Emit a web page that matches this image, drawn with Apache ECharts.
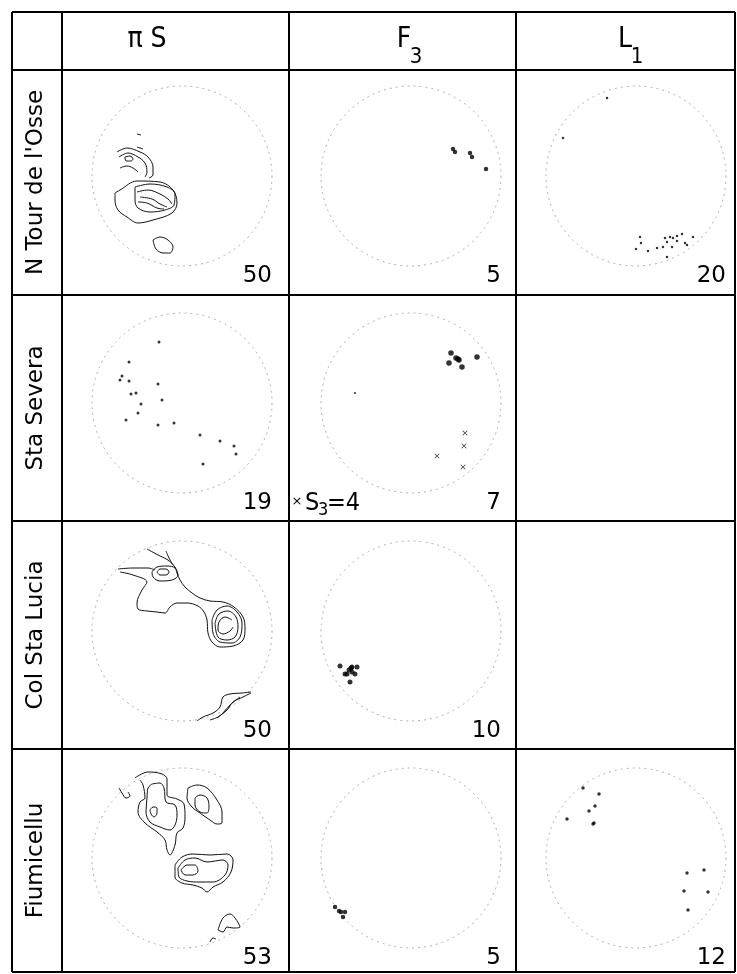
<!DOCTYPE html>
<html><head><meta charset="utf-8">
<script src="https://cdn.jsdelivr.net/npm/echarts@6/dist/echarts.min.js"></script>
<style>html,body{margin:0;padding:0;background:#fff}#c{width:737px;height:974px}</style>
</head><body><div id="c"></div>
<script>
// ---------- labels ----------
const columnHeads = ["π S", "F", "L"];
const columnSubs = ["", "3", "1"];
const rowLabels = ["N Tour de l'Osse", "Sta Severa", "Col Sta Lucia", "Fiumicellu"];
const counts = [["50","5","20"],["19","7",""],["50","10",""],["53","5","12"]];
const s3Label = "S";
const s3Sub = "3";
const s3Value = "=4";

// ---------- data (net units, primitive circle radius = 90) ----------
const tourF3 = [[42,27],[44,24],[59,23],[61,19],[75,7]];
const tourL1 = [[-29,78],[-73,38],[4,-61],[5,-67],[0,-73],[12,-75],[21,-72],[27,-71],[31,-66],[34,-61],[37,-62],[41,-60],[46,-58],[41,-65],[36,-71],[49,-67],[51,-69],[57,-61],[31,-81],[29,-62]];
const severaPiS = [[-23,61],[-53,41],[-60,27],[-62,23],[-53,22],[-24,19],[-51,9],[-46,10],[-20,3],[-41,-1],[-44,-10],[-56,-17],[-24,-22],[-8,-20],[18,-32],[38,-38],[52,-43],[54,-51],[21,-61]];
const severaF3 = [[40,50],[38,40],[45,45],[47,44],[48,43],[51,36],[66,46]];
const severaF3minor = [[-56,10]];
const severaS3 = [[54,-30],[53,-43],[26,-53],[52,-64]];
const luciaF3 = [[-71,-35],[-54,-36],[-66,-43],[-62,-39],[-60,-37],[-59,-41],[-56,-43],[-64,-43],[-61,-51],[-59,-36]];
const fiumF3 = [[-76,-49],[-72,-53],[-68,-59],[-66,-54],[-70,-54]];
const fiumL1 = [[-53,70],[-37,64],[-41,52],[-47,47],[-69,39],[-42,35],[-43,34],[51,-15],[68,-12],[48,-33],[72,-34],[52,-52]];

const tourPiS = [
 [[-67,-17],[-62,-14],[-45,-5],[-22,-6],[-9,-14],[-5,-27],[-10,-37],[-29,-44],[-44,-47],[-55,-41],[-64,-34],[-67,-24],[-67,-17]],
 [[-47,-11],[-32,-8],[-15,-11],[-7,-18],[-8,-29],[-17,-34],[-32,-36],[-44,-32],[-47,-24],[-47,-11]],
 [[-45,-16],[-34,-14],[-22,-18],[-14,-23],[-10,-28]],
 [[-42,-21],[-30,-23],[-22,-28],[-15,-31]],
 [[-44,-26],[-35,-27],[-25,-32],[-18,-33]],
 [[-65,24],[-55,28],[-42,24],[-34,19],[-29,9],[-29,1],[-33,-2]],
 [[-63,19],[-54,23],[-44,19],[-37,13],[-35,4],[-37,-1]],
 [[-62,8],[-55,10],[-49,8],[-44,4]],
 [[-57,19],[-52,20],[-49,17],[-51,15],[-56,15],[-57,19]],
 [[-45,42],[-41,41]],
 [[-45,29],[-39,27]],
 [[-29,-64],[-22,-61],[-14,-64],[-9,-71],[-12,-77],[-19,-77],[-26,-73],[-29,-64]]
];
const luciaPiS = [
 [[-64,62],[-49,63],[-34,63],[-27,61]],
 [[-30,59],[-25,64],[-15,65],[-7,63],[-4,56],[-10,51],[-22,50],[-29,54],[-30,59]],
 [[-25,59],[-22,62],[-16,62],[-13,59],[-16,56],[-22,56],[-25,59]],
 [[-62,59],[-49,56],[-35,49],[-40,41],[-45,28],[-44,22],[-35,20],[-25,19],[-17,18],[-12,24],[-5,28],[5,28],[16,25],[22,19],[25,11],[26,-2],[30,-11],[38,-16],[51,-15],[61,-9],[63,3],[61,14],[52,24],[41,29],[28,30],[18,33],[10,38],[3,44],[-2,51],[-5,58],[-7,64],[-14,71],[-22,75],[-35,82]],
 [[-16,80],[-13,73],[-9,66]],
 [[30,11],[35,21],[45,25],[55,19],[60,8],[58,-6],[50,-12],[38,-11],[31,-2],[30,11]],
 [[33,8],[37,17],[46,20],[54,14],[56,4],[53,-6],[45,-9],[36,-6],[33,8]],
 [[50,11],[43,14],[37,9],[36,1],[41,-3],[48,0],[51,4]],
 [[15,-90],[21,-86],[31,-82],[38,-76],[41,-66],[48,-63],[60,-62],[69,-61]],
 [[69,-62],[61,-66],[51,-71],[45,-79],[36,-86],[28,-89]],
 [[58,-66],[48,-74],[41,-82],[35,-87]]
];
const fiumPiS = [
 [[-63,70],[-60,65],[-56,60],[-52,62],[-54,66]],
 [[-47,80],[-34,86],[-20,84],[-15,79],[-15,63],[-5,59],[2,54],[3,41],[1,30],[-5,25],[-7,13],[-12,3],[-15,8],[-17,18],[-25,26],[-37,35],[-44,46],[-42,56],[-37,60],[-39,73],[-42,78]],
 [[-30,74],[-22,75],[-18,70],[-16,56],[-7,53],[-5,43],[-7,33],[-12,28],[-22,31],[-32,36],[-36,46],[-35,60],[-34,70],[-30,74]],
 [[-32,48],[-29,51],[-25,50],[-25,45],[-28,41],[-31,44],[-32,48]],
 [[6,70],[15,73],[25,70],[35,58],[40,46],[40,35],[35,34],[28,38],[18,45],[10,51],[5,60],[6,70]],
 [[13,60],[18,63],[25,60],[27,51],[25,45],[18,46],[13,53],[13,60]],
 [[-7,-7],[0,1],[11,4],[28,3],[45,4],[51,-2],[49,-14],[41,-24],[31,-29],[25,-34],[20,-30],[11,-27],[0,-25],[-7,-19],[-7,-7]],
 [[-4,-10],[3,-2],[13,0],[25,-4],[41,-2],[46,-7],[43,-17],[31,-24],[18,-24],[5,-23],[-3,-19],[-4,-10]],
 [[-1,-12],[5,-7],[13,-7],[16,-13],[11,-17],[3,-17],[-1,-12]],
 [[36,-72],[41,-60],[48,-56],[53,-60],[58,-69],[51,-70],[45,-69],[41,-74],[36,-72]],
 [[28,-84],[31,-80],[34,-81]]
];

// ---------- layout ----------
const FONT = "'DejaVu Sans',sans-serif";
const FONT_C = "'DejaVu Sans Condensed','DejaVu Sans',sans-serif";
const R = 90;
const colCx = [182, 411, 636];
const rowCy = [176, 403, 631, 858];
const tableX = [12, 62, 289, 516, 735];
const tableY = [12, 70, 295, 521, 749, 972];
const CROSS = 'path://M0,1L1,0L5,4L9,0L10,1L6,5L10,9L9,10L5,6L1,10L0,9L4,5Z';

const cells = [
 {r:0,c:0, contours: tourPiS},
 {r:0,c:1, dots:[{data:tourF3,size:4.5}]},
 {r:0,c:2, dots:[{data:tourL1,size:2.5}]},
 {r:1,c:0, dots:[{data:severaPiS,size:3}]},
 {r:1,c:1, dots:[{data:severaF3,size:5.5},{data:severaF3minor,size:2},{data:severaS3,size:5,cross:true}]},
 {r:2,c:0, contours: luciaPiS},
 {r:2,c:1, dots:[{data:luciaF3,size:5}]},
 {r:3,c:0, contours: fiumPiS},
 {r:3,c:1, dots:[{data:fiumF3,size:4.5}]},
 {r:3,c:2, dots:[{data:fiumL1,size:3.5}]}
];

const grid=[], xAxis=[], yAxis=[], polar=[], angleAxis=[], radiusAxis=[], series=[];
cells.forEach((cell,k)=>{
  const cx = colCx[cell.c], cy = rowCy[cell.r];
  grid.push({left:cx-R, top:cy-R, width:2*R, height:2*R});
  xAxis.push({gridIndex:k, type:'value', min:-R, max:R, show:false});
  yAxis.push({gridIndex:k, type:'value', min:-R, max:R, show:false});
  polar.push({center:[cx,cy], radius:R});
  angleAxis.push({polarIndex:k, type:'value', min:0, max:360, axisLine:{show:true, lineStyle:{color:'#9a9a9a', width:0.8, type:[2,4]}}, axisTick:{show:false}, axisLabel:{show:false}, splitLine:{show:false}});
  radiusAxis.push({polarIndex:k, type:'value', min:0, max:R, show:false, splitLine:{show:false}});
  (cell.contours||[]).forEach(line=>{
    series.push({type:'line', xAxisIndex:k, yAxisIndex:k, data:line, symbol:'none', smooth:0.35, silent:true,
      lineStyle:{color:'#111', width:1}});
  });
  (cell.dots||[]).forEach(d=>{
    series.push({type:'scatter', xAxisIndex:k, yAxisIndex:k, data:d.data, symbol:d.cross?CROSS:'circle',
      symbolSize:d.size, silent:true, itemStyle:{color:'#000'}});
  });
});

const graphic = [];
tableX.forEach((x)=>{
  graphic.push({type:'line', shape:{x1:x, y1:tableY[0], x2:x, y2:tableY[tableY.length-1]}, style:{stroke:'#000', lineWidth:2}});
});
tableY.forEach((y)=>{
  graphic.push({type:'line', shape:{x1:tableX[0], y1:y, x2:tableX[tableX.length-1], y2:y}, style:{stroke:'#000', lineWidth:2}});
});
const headX = [147, 404, 625];
columnHeads.forEach((t,i)=>{
  graphic.push({type:'text', x:headX[i], y:40, style:{text:t, font:'28px '+FONT_C, fill:'#000', align:'center', verticalAlign:'middle'}});
  if (columnSubs[i]) graphic.push({type:'text', x:headX[i]+12, y:57, style:{text:columnSubs[i], font:'22px '+FONT_C, fill:'#000', align:'center', verticalAlign:'middle'}});
});
rowLabels.forEach((t,i)=>{
  const cy = (tableY[i+1]+tableY[i+2])/2;
  graphic.push({type:'text', x:36, y:cy, rotation:Math.PI/2, style:{text:t, font:'23px '+FONT, fill:'#000', align:'center', verticalAlign:'middle'}});
});
counts.forEach((row,r)=>row.forEach((t,c)=>{
  if(!t) return;
  graphic.push({type:'text', x:colCx[c]+90, y:rowCy[r]+100, style:{text:t, font:'23px '+FONT, fill:'#000', align:'right', verticalAlign:'middle'}});
}));
graphic.push({type:'text', x:297, y:502, style:{text:'×', font:'13px '+FONT, fill:'#000', align:'center', verticalAlign:'middle'}});
graphic.push({type:'text', x:305, y:503, style:{text:s3Label, font:'25px '+FONT_C, fill:'#000', align:'left', verticalAlign:'middle'}});
graphic.push({type:'text', x:318, y:510, style:{text:s3Sub, font:'18px '+FONT_C, fill:'#000', align:'left', verticalAlign:'middle'}});
graphic.push({type:'text', x:327, y:503, style:{text:s3Value, font:'25px '+FONT_C, fill:'#000', align:'left', verticalAlign:'middle'}});

const chart = echarts.init(document.getElementById('c'), null, {renderer:'canvas'});
chart.setOption({animation:false, backgroundColor:'#fff', grid, xAxis, yAxis, polar, angleAxis, radiusAxis, series, graphic});
</script></body></html>
